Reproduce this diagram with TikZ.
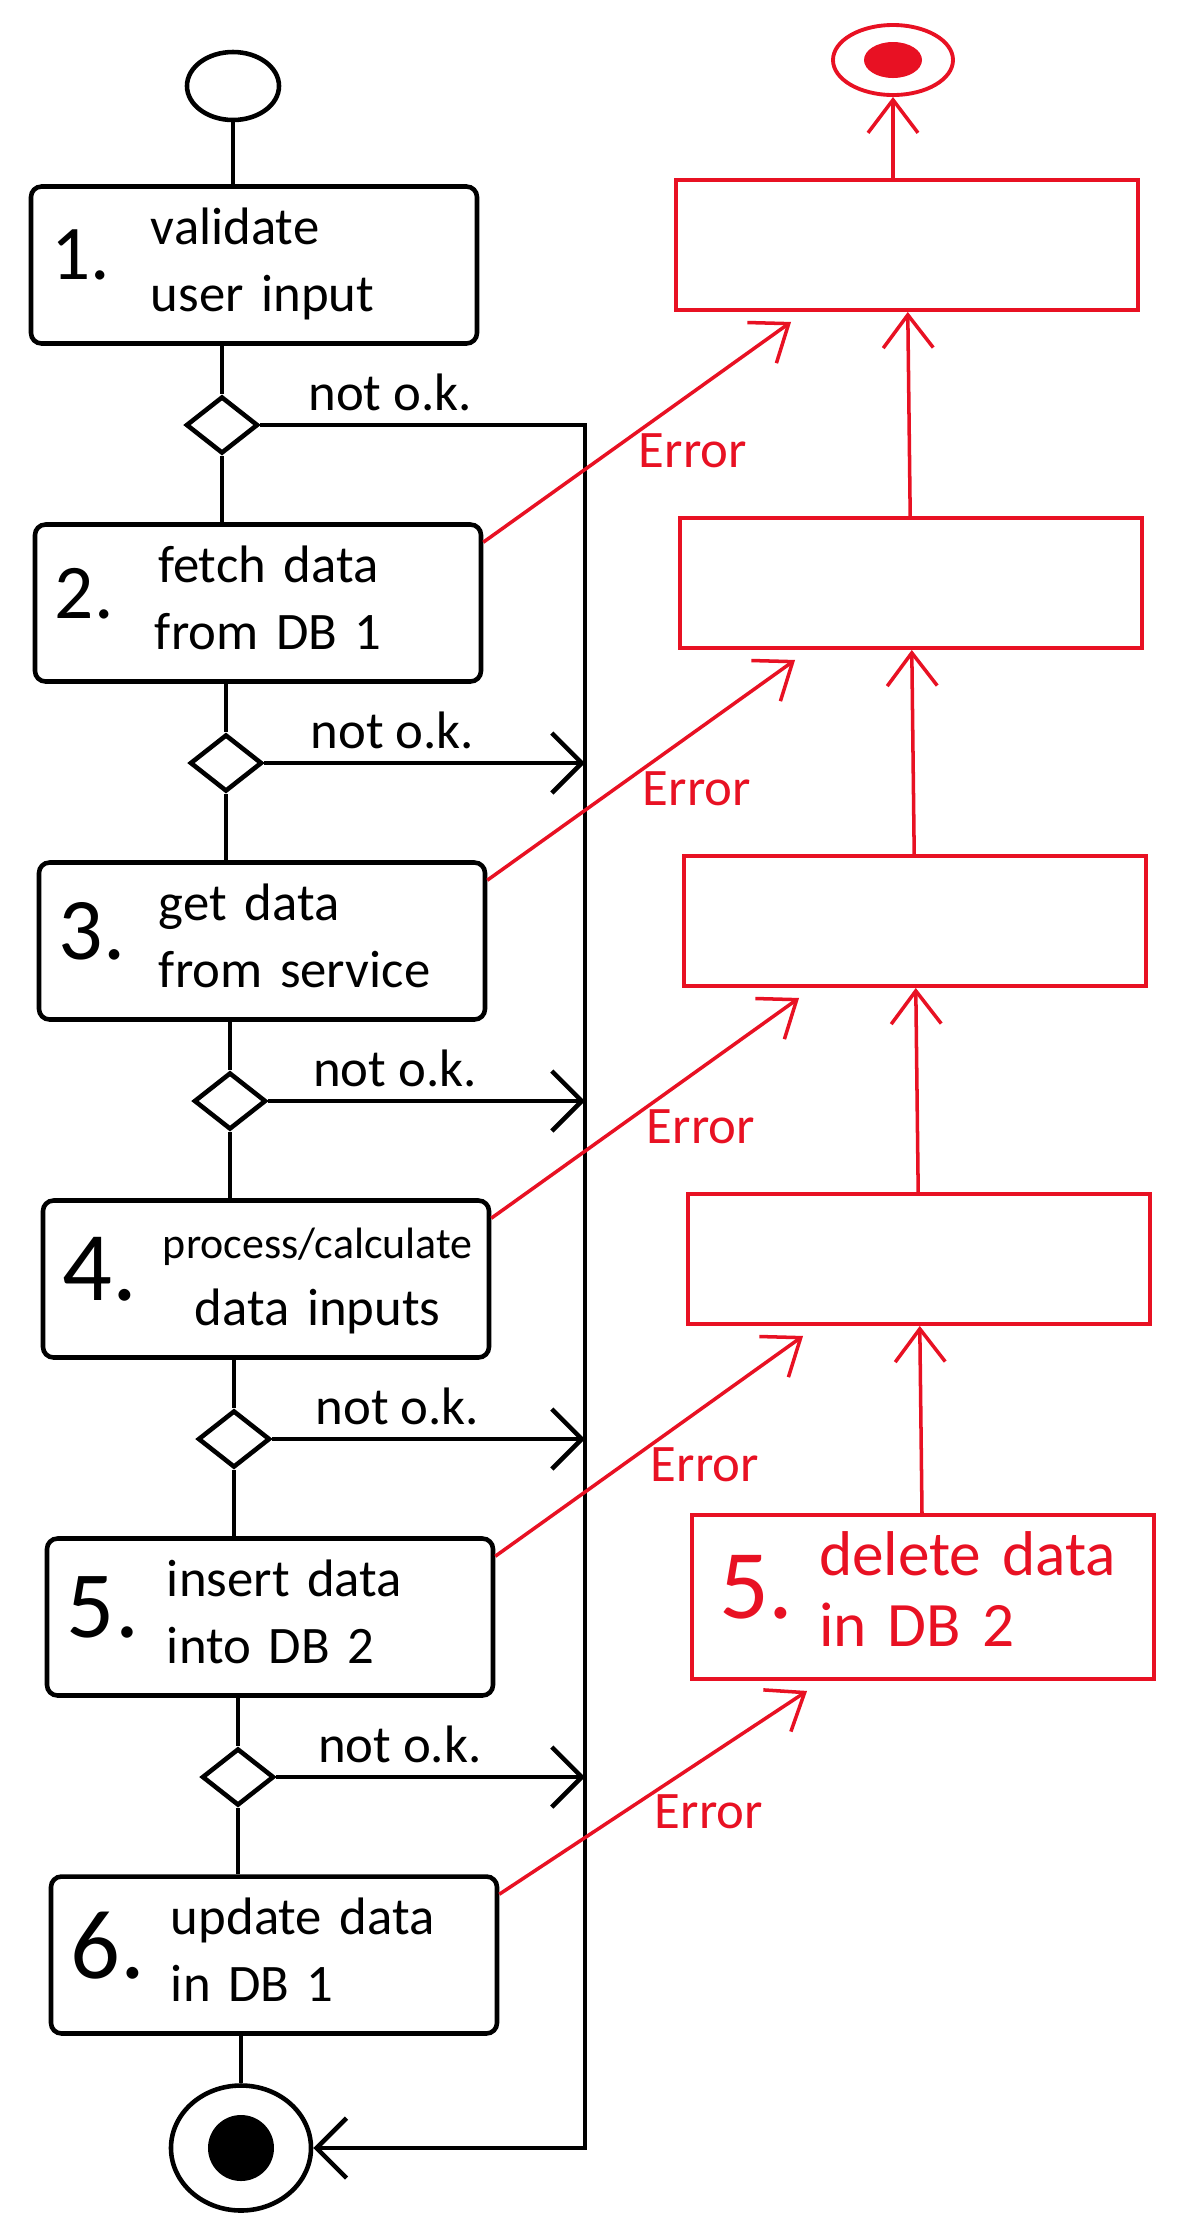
\documentclass[tikz,border=0pt]{standalone}
\usepackage{fontspec}
\setmainfont{Carlito}
\usetikzlibrary{positioning,shapes.geometric,arrows.meta}
\definecolor{pen}{RGB}{232,17,35}
\newcommand{\stepno}[2]{\makebox[1cm][l]{\begin{tabular}{@{}l@{}}\fontsize{#1}{#1}\selectfont #2\end{tabular}}}
\newcommand{\steptext}[3][l]{\begin{tabular}{@{}#1@{}}#2\\#3\end{tabular}}

\begin{document}
\begin{tikzpicture}[font=\fontsize{15}{19}\selectfont, line width=1.3pt, node distance=1.6cm,
  stepbox/.style = {draw, rectangle, rounded corners=3pt, minimum width=4.46cm, minimum height=1.32cm, inner xsep=0.2cm, text width=4.06cm, align=left},
  dec/.style = {draw, diamond, minimum width=0.72cm, minimum height=0.57cm, inner sep=0pt},
  startnode/.style = {draw, ellipse, minimum width=0.92cm, minimum height=0.68cm},
  endnode/.style = {draw, ellipse, minimum width=1.4cm, minimum height=1.25cm, path picture={\fill (path picture bounding box.center) circle (0.33cm);}},
  errbox/.style = {draw=pen, line width=1.1pt, rectangle, minimum width=4.62cm, minimum height=1.3cm},
  errend/.style = {draw=pen, line width=1.1pt, ellipse, minimum width=1.2cm, minimum height=0.7cm, path picture={\fill[pen] (path picture bounding box.center) ellipse (0.29cm and 0.18cm);}},
  flow/.style = {-{Straight Barb[length=3mm,width=6mm]}},
  err/.style = {pen, line width=1pt, -{Straight Barb[length=3.3mm,width=5mm]}},
  lbl/.style = {above, pos=0.4},
  errlbl/.style = {pen, pos=0.5, anchor=north west, inner sep=0pt}]
\useasboundingbox (0,0) rectangle (11.98,-22.36);
% main flow
\node[stepbox] (1) at (2.54,-2.65) {\stepno{22}{1.}\steptext{validate}{user input}};
\node[startnode] (s) [node distance=1.79cm, above of=1, xshift=-0.21cm] {};
\node[dec] (d1) [below of=1, xshift=-0.32cm] {};
\node[stepbox] (2) [node distance=1.78cm, below of=d1, xshift=0.36cm] {\stepno{22}{2.}\steptext[c]{fetch data}{from DB 1}};
\node[dec] (d2) [below of=2, xshift=-0.32cm] {};
\node[stepbox] (3) [node distance=1.78cm, below of=d2, xshift=0.36cm] {\stepno{25}{3.}\steptext{get data}{from service}};
\node[dec] (d3) [below of=3, xshift=-0.32cm] {};
\node[stepbox] (4) [node distance=1.78cm, below of=d3, xshift=0.36cm] {\stepno{28}{4.}\steptext[c]{{\fontsize{12.5}{19}\selectfont process/calculate}}{data inputs}};
\node[dec] (d4) [below of=4, xshift=-0.32cm] {};
\node[stepbox] (5) [node distance=1.78cm, below of=d4, xshift=0.36cm] {\stepno{27}{5.}\steptext{insert data}{into DB 2}};
\node[dec] (d5) [below of=5, xshift=-0.32cm] {};
\node[stepbox] (6) [node distance=1.78cm, below of=d5, xshift=0.36cm] {\stepno{28}{6.}\steptext{update data}{in DB 1}};
\node[endnode] (e) [node distance=1.93cm, below of=6, xshift=-0.33cm] {};
\coordinate (bus) at (5.85,0);
% rollback column
\node[errbox] (r1) [node distance=6.53cm, right of=1, yshift=0.2cm] {};
\node[errbox] (r2) [node distance=6.53cm, right of=2, yshift=0.2cm] {};
\node[errbox] (r3) [node distance=6.53cm, right of=3, yshift=0.2cm] {};
\node[errbox] (r4) [node distance=6.53cm, right of=4, yshift=0.2cm] {};
\node[errbox, text=pen, font=\fontsize{18}{20}\selectfont, inner xsep=0.27cm, text width=4.08cm, align=left] (r5) [node distance=6.53cm, right of=5, yshift=0.2cm] {\stepno{28}{5.}\steptext{delete data}{in DB 2}};
\node[errend] (rend) [node distance=1.85cm, above of=r1, xshift=-0.14cm] {};
\draw (s) -- (s |- 1.north);
\draw (1.south -| d1) -- (d1);
\draw (d1) -- (d1 |- 2.north);
\draw (2.south -| d2) -- (d2);
\draw (d2) -- (d2 |- 3.north);
\draw (3.south -| d3) -- (d3);
\draw (d3) -- (d3 |- 4.north);
\draw (4.south -| d4) -- (d4);
\draw (d4) -- (d4 |- 5.north);
\draw (5.south -| d5) -- (d5);
\draw (d5) -- (d5 |- 6.north);
\draw (6.south -| e) -- (e);
\draw[flow] (d1) -- node[lbl] {not o.k.} (d1 -| bus) -- (e -| bus) -- (e);
\draw[flow] (d2) -- node[lbl] {not o.k.} (d2 -| bus);
\draw[flow] (d3) -- node[lbl] {not o.k.} (d3 -| bus);
\draw[flow] (d4) -- node[lbl] {not o.k.} (d4 -| bus);
\draw[flow] (d5) -- node[lbl] {not o.k.} (d5 -| bus);
\draw[err] (rend.south |- r1.north) -- (rend);
\draw[err] (r2) -- (r1);
\draw[err] (r3) -- (r2);
\draw[err] (r4) -- (r3);
\draw[err] (r5) -- (r4);
\draw[err] ([yshift=-0.2cm]2.north east) -- node[errlbl] {Error} ([xshift=1.17cm, yshift=-0.1cm]r1.south west);
\draw[err] ([yshift=-0.2cm]3.north east) -- node[errlbl] {Error} ([xshift=1.17cm, yshift=-0.1cm]r2.south west);
\draw[err] ([yshift=-0.2cm]4.north east) -- node[errlbl] {Error} ([xshift=1.17cm, yshift=-0.1cm]r3.south west);
\draw[err] ([yshift=-0.2cm]5.north east) -- node[errlbl] {Error} ([xshift=1.17cm, yshift=-0.1cm]r4.south west);
\draw[err] ([yshift=-0.2cm]6.north east) -- node[errlbl] {Error} ([xshift=1.17cm, yshift=-0.1cm]r5.south west);
\end{tikzpicture}
\end{document}
